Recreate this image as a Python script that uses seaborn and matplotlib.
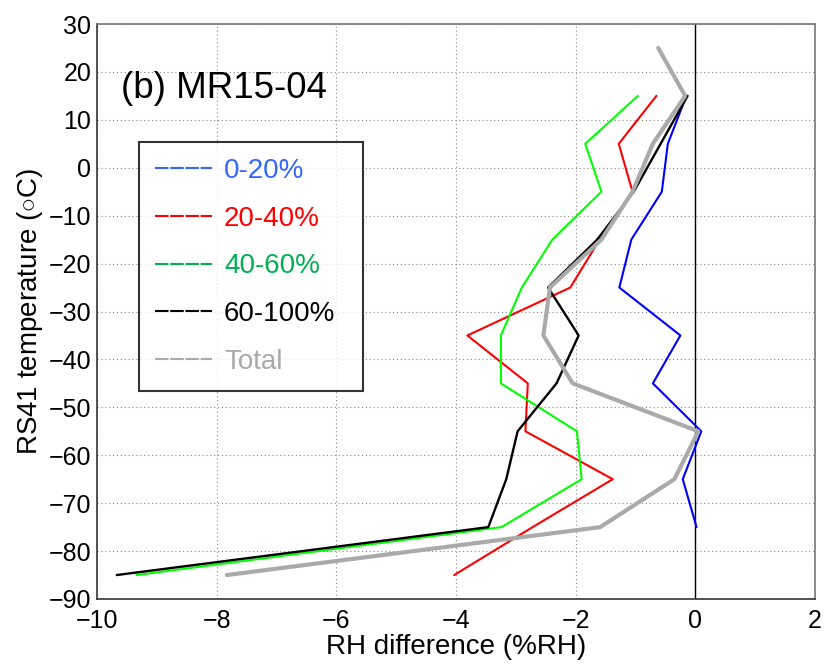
import numpy as np
import pandas as pd
import matplotlib
matplotlib.use("Agg")
import matplotlib.pyplot as plt
import seaborn as sns

# ---- data ----
temps = [15, 5, -5, -15, -25, -35, -45, -55, -65, -75, -85]
temps_blue = [15, 5, -5, -15, -25, -35, -45, -55, -65, -75]
temps_total = [25, 15, 5, -5, -15, -25, -35, -45, -55, -65, -75, -85]

rh_0_20 = [-0.15, -0.46, -0.56, -1.07, -1.27, -0.25, -0.71, 0.10, -0.21, 0.02]
rh_20_40 = [-0.65, -1.28, -1.05, -1.60, -2.09, -3.81, -2.80, -2.84, -1.38, -2.72, -4.03]
rh_40_60 = [-0.96, -1.84, -1.57, -2.39, -2.90, -3.25, -3.25, -1.98, -1.90, -3.24, -9.34]
rh_60_100 = [-0.13, -0.58, -1.03, -1.64, -2.46, -1.95, -2.32, -2.97, -3.16, -3.46, -9.67]
rh_total = [-0.62, -0.17, -0.71, -1.05, -1.57, -2.43, -2.54, -2.05, 0.05, -0.35, -1.59, -7.83]

labels = ["0-20%", "20-40%", "40-60%", "60-100%", "Total"]
line_colors = ["#0000ff", "#ff0000", "#00ff00", "#000000", "#aaaaaa"]
legend_line_colors = ["#3366ff", "#ff0000", "#00b050", "#000000", "#aaaaaa"]
text_colors = ["#3366ff", "#ff0000", "#00b050", "#000000", "#aaaaaa"]

xticks = [-10, -8, -6, -4, -2, 0, 2]
yticks = list(range(-90, 31, 10))

series = [
    (rh_0_20, temps_blue),
    (rh_20_40, temps),
    (rh_40_60, temps),
    (rh_60_100, temps),
    (rh_total, temps_total),
]
widths = [1.5, 1.5, 1.5, 1.7, 3.0]

sns.set_style("white")
plt.rcParams["font.family"] = ["Liberation Sans", "DejaVu Sans"]
plt.rcParams["mathtext.fontset"] = "custom"
plt.rcParams["mathtext.rm"] = "Liberation Sans"
plt.rcParams["text.color"] = "black"
plt.rcParams["axes.labelcolor"] = "black"
plt.rcParams["xtick.color"] = "black"
plt.rcParams["ytick.color"] = "black"

fig = plt.figure(figsize=(8.25, 6.72), dpi=100)
ax = fig.add_axes([97 / 825, 1 - 599 / 672, 718 / 825, 575 / 672])

ax.set_xlim(-10, 2)
ax.set_ylim(-90, 30)
ax.set_xticks(xticks)
ax.set_yticks(yticks)
ax.grid(True, color="#888888", linestyle=(0, (1, 2.5)), linewidth=0.8)
ax.set_axisbelow(True)

ax.axvline(0, color="black", lw=1.0, zorder=1)

order = [4, 0, 1, 2, 3]
handles = {}
for i in order:
    x, y = series[i]
    df = pd.DataFrame({"rh": x, "t": y})
    sns.lineplot(data=df, x="rh", y="t", sort=False, estimator=None,
                 color=line_colors[i], lw=widths[i], ax=ax, zorder=3 + i)
    handles[i] = ax.lines[-1]

leg = ax.legend([handles[i] for i in range(5)], labels,
                loc="upper left", bbox_to_anchor=(0.0585, 0.0, 0.312, 0.795),
                mode="expand",
                fontsize=20, labelcolor=text_colors, frameon=True,
                fancybox=False, handlelength=2.05, handletextpad=0.43,
                labelspacing=0.78, borderpad=0.58, borderaxespad=0.0)
leg.get_frame().set_edgecolor("black")
leg.get_frame().set_linewidth(1.5)
for lh, c in zip(leg.get_lines(), legend_line_colors):
    lh.set_linewidth(1.5)
    lh.set_color(c)
    lh.set_dashes((6.5, 0.8))

ax.text(-9.6, 16.5, "(b) MR15-04", fontsize=26.5, ha="left", va="center",
        color="black")

ax.set_xlabel("RH difference (%RH)", fontsize=20, labelpad=1)
ax.set_ylabel(r"RS41 temperature ($\circ$C)", fontsize=20, labelpad=3)
ax.tick_params(axis="both", labelsize=18, direction="in", length=4,
               color="#555555", labelcolor="black")
ax.tick_params(axis="x", pad=7)
ax.tick_params(axis="y", pad=4)
ax.set_xticklabels(["\u221210", "\u22128", "\u22126", "\u22124", "\u22122", "0", "2"])
ax.set_yticklabels([str(v).replace("-", "\u2212") for v in yticks])

for s in ax.spines.values():
    s.set_color("#777777")
    s.set_linewidth(1.2)
ax.spines["left"].set_color("#333333")
ax.spines["bottom"].set_color("#333333")

fig.savefig("out.png", dpi=100)
